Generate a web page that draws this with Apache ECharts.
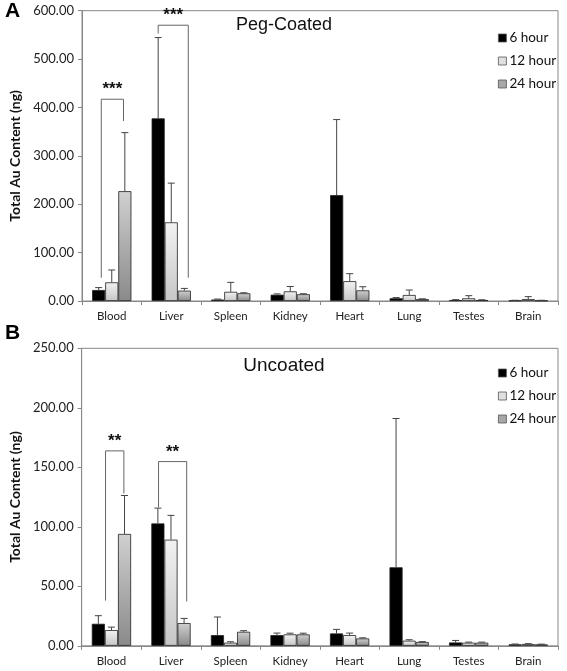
<!DOCTYPE html>
<html>
<head>
<meta charset="utf-8">
<script src="https://cdn.jsdelivr.net/npm/echarts@6/dist/echarts.min.js"></script>
<style>
html,body{margin:0;padding:0;background:#fff;}
#c{width:567px;height:671px;}
</style>
</head>
<body>
<div id="c"></div>
<script>
// ---- data ----
const categories = ['Blood','Liver','Spleen','Kidney','Heart','Lung','Testes','Brain'];
const hours = ['6 hour','12 hour','24 hour'];

// Panel A: Peg-Coated
const pegMean6  = [22.7, 377.5, 3, 13, 219, 5.6, 2, 1];
const pegMean12 = [38.6, 162.6, 19, 20, 41, 12.4, 5.6, 4];
const pegMean24 = [227, 21.4, 16, 14, 22, 4, 2, 1];
const pegErr6  = [5, 167, 1, 1.7, 156, 1.5, 0.8, 0.5];
const pegErr12 = [25.5, 81, 19.5, 10, 15.5, 10.3, 5.4, 5];
const pegErr24 = [121, 4.6, 1, 1, 7.5, 0.5, 0.5, 0.5];
const pegTicks = [0, 100, 200, 300, 400, 500, 600];

// Panel B: Uncoated
const uncMean6  = [18.5, 102.8, 9, 9, 10.4, 66, 2.8, 1.2];
const uncMean12 = [13.2, 89.2, 2.6, 9.6, 9, 4.3, 2.6, 1.5];
const uncMean24 = [94, 19.1, 11.8, 9.6, 6.2, 3.2, 2.6, 1.2];
const uncErr6  = [6.8, 12.9, 15.2, 1.7, 3.4, 125, 1.7, 0.3];
const uncErr12 = [2.5, 20.4, 0.8, 1, 1.7, 0.8, 0.5, 0.3];
const uncErr24 = [32.3, 3.9, 0.9, 1, 0.5, 0.3, 0.5, 0.2];
const uncTicks = [0, 50, 100, 150, 200, 250];

// significance brackets: [category, left slot, right slot, top, left leg bottom, right leg bottom]
const pegBrackets = [[0, 0.2, 1.9, 417, 48, 372], [1, 0.0, 2.3, 570, 553, 48]];
const pegBracketLabels = ['***', '***'];
const uncBrackets = [[0, 0.55, 1.95, 163.8, 38, 128], [1, 0.05, 2.2, 154.8, 116.4, 37.3]];
const uncBracketLabels = ['**', '**'];

// ---- styling ----
const BAR_W = 0.22;
const lblFont = 'Lato, "Open Sans", sans-serif';
const colors = [
  '#000000',
  {type:'linear',x:0,y:0,x2:0,y2:1,colorStops:[{offset:0,color:'#f2f2f2'},{offset:1,color:'#c6c6c6'}]},
  {type:'linear',x:0,y:0,x2:0,y2:1,colorStops:[{offset:0,color:'#d0d0d0'},{offset:1,color:'#8a8a8a'}]}
];
const legendColors = ['#000000', '#e0e0e0', '#a8a8a8'];

function barSeries(gi, means) {
  return means.map((m, k) => ({
    name: hours[k], type: 'bar', xAxisIndex: gi, yAxisIndex: gi,
    data: m, barWidth: (BAR_W*100)+'%', barGap: '0%',
    itemStyle: {color: colors[k], borderColor: '#222', borderWidth: 0.8},
    emphasis: {disabled: true}, z: 2
  }));
}

function errSeries(gi, means, errs) {
  return means.map((m, k) => ({
    type: 'custom', xAxisIndex: gi, yAxisIndex: gi, z: 3, silent: true,
    data: m.map((v, i) => [i, v, errs[k][i]]),
    renderItem: function(params, api) {
      const c = api.value(0), v = api.value(1), e = api.value(2);
      const band = api.size([1, 0])[0];
      const off = (k - 1) * band * BAR_W;
      const p0 = api.coord([c, v]);
      const p1 = api.coord([c, v + e]);
      const x = p0[0] + off;
      const st = {stroke: '#444', lineWidth: 1};
      return {type: 'group', children: [
        {type: 'line', shape: {x1: x, y1: p0[1], x2: x, y2: p1[1]}, style: st},
        {type: 'line', shape: {x1: x - 3.5, y1: p1[1], x2: x + 3.5, y2: p1[1]}, style: st}
      ]};
    }
  }));
}

function bracketSeries(gi, brackets, labels) {
  return {
    type: 'custom', xAxisIndex: gi, yAxisIndex: gi, z: 4, silent: true,
    data: brackets,
    renderItem: function(params, api) {
      const c = api.value(0), s1 = api.value(1), s2 = api.value(2);
      const top = api.value(3), lb = api.value(4), rb = api.value(5);
      const band = api.size([1, 0])[0];
      const cx = api.coord([c, 0])[0];
      const xl = cx + (s1 - 1) * band * BAR_W;
      const xr = cx + (s2 - 1) * band * BAR_W;
      const yt = api.coord([c, top])[1];
      const yl = api.coord([c, lb])[1];
      const yr = api.coord([c, rb])[1];
      return {type: 'group', children: [
        {type: 'polyline', shape: {points: [[xl, yl], [xl, yt], [xr, yt], [xr, yr]]},
         style: {stroke: '#666', lineWidth: 1, fill: null}},
        {type: 'text', x: (xl + xr) / 2, y: yt - 1,
         style: {text: labels[params.dataIndex], fill: '#111', font: 'bold 17px "Liberation Sans", Arial, sans-serif',
                 align: 'center', verticalAlign: 'bottom'}}
      ]};
    }
  };
}

function xAxis(gi) {
  return {
    type: 'category', gridIndex: gi, data: categories,
    axisLine: {lineStyle: {color: '#888', width: 1}},
    axisTick: {show: true, length: 4, lineStyle: {color: '#888'}},
    axisLabel: {color: '#222', fontSize: 11.5, fontFamily: lblFont, margin: 9}
  };
}
function yAxis(gi, ticks, gap) {
  return {
    type: 'value', gridIndex: gi, min: ticks[0], max: ticks[ticks.length - 1],
    interval: ticks[1] - ticks[0],
    name: 'Total Au Content (ng)', nameLocation: 'middle', nameGap: gap,
    nameTextStyle: {fontFamily: lblFont, fontWeight: 'bold', fontSize: 14, color: '#111'},
    axisLine: {show: true, lineStyle: {color: '#888', width: 1}},
    axisTick: {show: true, length: 4, lineStyle: {color: '#888'}},
    splitLine: {show: false},
    axisLabel: {color: '#222', fontSize: 13, fontFamily: lblFont, margin: 8,
                formatter: v => v.toFixed(2)}
  };
}
function legend(top) {
  return {
    left: 493, top: top, orient: 'vertical', icon: 'rect',
    itemWidth: 8, itemHeight: 8, itemGap: 9,
    data: hours.map((h, k) => ({name: h, itemStyle: {color: legendColors[k], borderColor: '#555', borderWidth: 0.8}})),
    textStyle: {fontSize: 13.5, lineHeight: 13, color: '#111', fontFamily: lblFont, padding: [0, 0, 0, -2]},
    selectedMode: false
  };
}

const chart = echarts.init(document.getElementById('c'), null, {renderer: 'canvas'});
chart.setOption({
  animation: false,
  backgroundColor: '#fff',
  grid: [
    {left: 82, top: 10.7, right: 9, height: 290.3, show: true, borderColor: '#888', borderWidth: 1, backgroundColor: 'transparent'},
    {left: 80, top: 348.3, right: 9, height: 297.5, show: true, borderColor: '#888', borderWidth: 1, backgroundColor: 'transparent'}
  ],
  legend: [legend(26), legend(361)],
  xAxis: [xAxis(0), xAxis(1)],
  yAxis: [yAxis(0, pegTicks, 57), yAxis(1, uncTicks, 56)],
  graphic: [
    {type: 'text', left: 5, top: 1, style: {text: 'A', font: 'bold 21px "Liberation Sans", Arial, sans-serif', fill: '#000'}},
    {type: 'text', left: 5, top: 323, style: {text: 'B', font: 'bold 21px "Liberation Sans", Arial, sans-serif', fill: '#000'}},
    {type: 'text', x: 284, y: 25, style: {text: 'Peg-Coated', font: '18px "Liberation Sans", Arial, sans-serif', fill: '#111', align: 'center', verticalAlign: 'middle'}},
    {type: 'text', x: 284, y: 366, style: {text: 'Uncoated', font: '19px "Liberation Sans", Arial, sans-serif', fill: '#111', align: 'center', verticalAlign: 'middle'}}
  ],
  series: [].concat(
    barSeries(0, [pegMean6, pegMean12, pegMean24]),
    errSeries(0, [pegMean6, pegMean12, pegMean24], [pegErr6, pegErr12, pegErr24]),
    [bracketSeries(0, pegBrackets, pegBracketLabels)],
    barSeries(1, [uncMean6, uncMean12, uncMean24]),
    errSeries(1, [uncMean6, uncMean12, uncMean24], [uncErr6, uncErr12, uncErr24]),
    [bracketSeries(1, uncBrackets, uncBracketLabels)]
  )
});
</script>
</body>
</html>
